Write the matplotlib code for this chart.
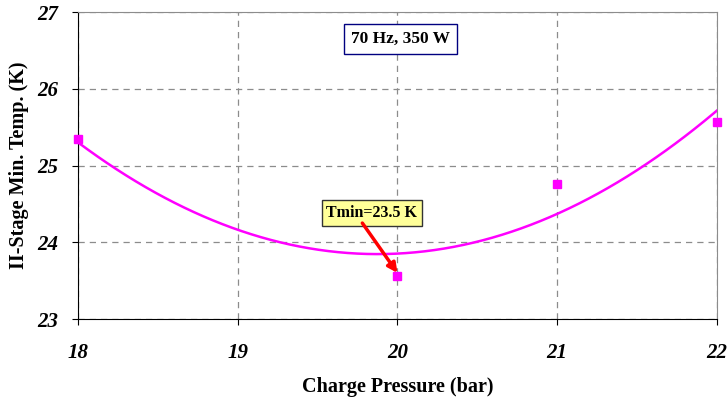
import numpy as np
import matplotlib.pyplot as plt

# measured points
pressure = [18, 20, 21, 22]          # bar
temp = [25.35, 23.56, 24.76, 25.57]  # K
xticks = [18, 19, 20, 21, 22]
yticks = [23, 24, 25, 26, 27]

plt.rcParams['font.family'] = ['Liberation Serif', 'DejaVu Serif']

fig = plt.figure(figsize=(7.27, 4.03), dpi=100)
ax = fig.add_axes([0.1073, 0.2084, 0.8789, 0.7618])

# 2nd order trendline through the measured points
coef = np.polyfit(pressure, temp, 2)
xs = np.linspace(18, 22, 200)
ax.plot(xs, np.polyval(coef, xs), color='#FF00FF', lw=1.8, zorder=3)
ax.plot(pressure, temp, 's', color='#FF00FF', ms=6, zorder=4, clip_on=False)

ax.set_xlim(18, 22)
ax.set_ylim(23, 27)
ax.set_xticks(xticks)
ax.set_yticks(yticks)
ax.tick_params(axis='x', direction='out', length=4, pad=13, labelsize=15)
ax.tick_params(axis='y', direction='out', length=4, pad=10, labelsize=15)
for lab in ax.get_xticklabels() + ax.get_yticklabels():
    lab.set_fontweight('bold')
    lab.set_fontstyle('italic')

ax.grid(True, ls=(0, (5, 4)), color='#8c8c8c', lw=0.9)
for s in ['top', 'right']:
    ax.spines[s].set_color('#8c8c8c')
for s in ['left', 'bottom']:
    ax.spines[s].set_color('black')

ax.set_xlabel('Charge Pressure (bar)', fontsize=14.5, fontweight='bold', labelpad=10)
ax.set_ylabel('II-Stage Min. Temp. (K)', fontsize=14.5, fontweight='bold', labelpad=6)

ax.text(20.02, 26.65, '70 Hz, 350 W', ha='center', va='center', fontsize=12.5,
        fontweight='bold',
        bbox=dict(boxstyle='square,pad=0.4', fc='white', ec='#000080', lw=1))

ax.text(19.84, 24.38, 'Tmin=23.5 K', ha='center', va='center', fontsize=11.5,
        fontweight='bold',
        bbox=dict(boxstyle='square,pad=0.3', fc='#FFFF99', ec='#333333', lw=1))
ax.annotate('', xy=(20.0, 23.6), xytext=(19.78, 24.25),
            arrowprops=dict(arrowstyle='-|>', color='#FF0000', lw=2.5,
                            mutation_scale=14, shrinkA=0, shrinkB=0))

plt.savefig('out.png', dpi=100)
